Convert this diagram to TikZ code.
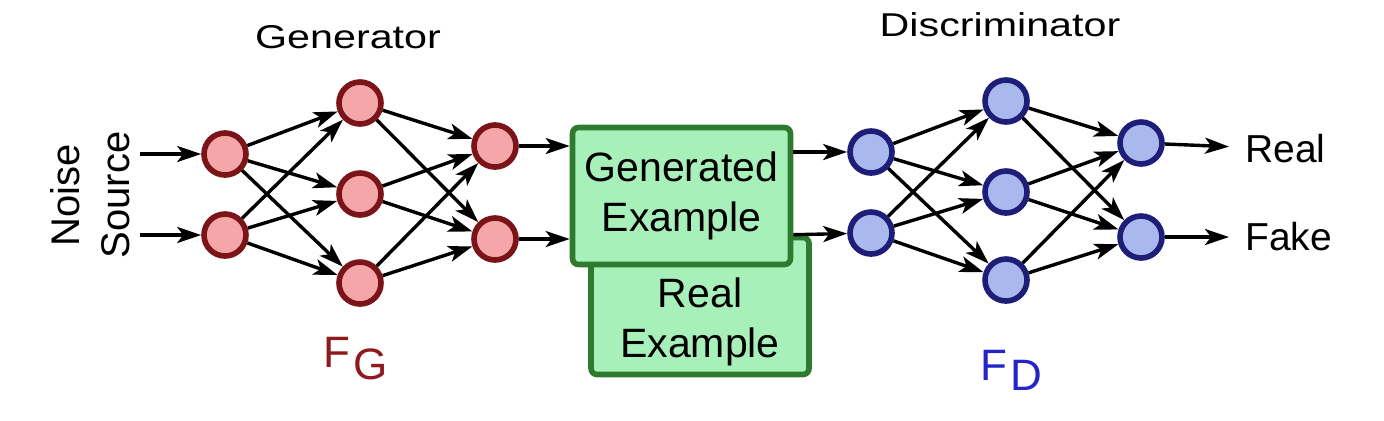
\documentclass[tikz,border=0pt]{standalone}
\usepackage{fontspec}
\setmainfont{Liberation Sans}
\usepackage{xcolor}
\usepackage{tikz}
\usetikzlibrary{arrows.meta}

\definecolor{genfill}{HTML}{F4A6A8}
\definecolor{gendraw}{HTML}{7B1419}
\definecolor{disfill}{HTML}{A9B9EE}
\definecolor{disdraw}{HTML}{1E1E78}
\definecolor{boxfill}{HTML}{A8F0BA}
\definecolor{boxdraw}{HTML}{2E7B30}
\definecolor{fgred}{HTML}{8E1A1E}
\definecolor{fdblue}{HTML}{2424C8}

\begin{document}
\begin{tikzpicture}[x=0.5pt, y=-0.5pt,
    >={Stealth[length=12pt, width=8pt, inset=3pt]},
    gen/.style={circle, draw=gendraw, fill=genfill, line width=2.8pt, minimum size=21pt, inner sep=0pt},
    dis/.style={circle, draw=disdraw, fill=disfill, line width=2.8pt, minimum size=21pt, inner sep=0pt},
    example/.style={rectangle, rounded corners=3pt, draw=boxdraw, fill=boxfill, line width=2.8pt,
        minimum width=109pt, minimum height=68.5pt, inner sep=0pt},
    boxtext/.style={align=center, inner sep=0pt, font=\fontsize{20.5}{25}\selectfont},
    title/.style={xscale=1.25, inner sep=0pt, font=\fontsize{16.5}{20}\selectfont},
    outlbl/.style={anchor=west, inner xsep=8pt, inner ysep=0pt, font=\fontsize{19.5}{24}\selectfont},
    flbl/.style={anchor=base west, inner sep=0pt, font=\fontsize{22}{22}\selectfont},
    link/.style={line width=1.7pt}]

    \useasboundingbox (0,0) rectangle (1384,420);

    % titles and inputs
    \node[title] (gtitle) at (348,37) {Generator};
    \node[title] (dtitle) at (1000,25) {Discriminator};
    \node[rotate=90, align=center, inner sep=0pt, font=\fontsize{20}{25}\selectfont] (noise) at (90,195) {Noise\\Source};
    \coordinate (in1) at (140,154);
    \coordinate (in2) at (140,235);

    % generator
    \node[gen] (g11) at (225,154) {};
    \node[gen] (g12) at (225,235) {};
    \node[gen] (g21) at (360,103) {};
    \node[gen] (g22) at (360,194) {};
    \node[gen] (g23) at (360,283) {};
    \node[gen] (g31) at (495,146) {};
    \node[gen] (g32) at (495,239) {};

    % examples
    \node[example] (real) at (700,306) {};
    \node[boxtext] (realtxt) at (700,322) {Real\\Example};
    \node[example, boxtext, inner sep=0pt] (gen) at (681.5,196) {Generated\\Example};

    % discriminator
    \node[dis] (d11) at (871,152) {};
    \node[dis] (d12) at (871,233) {};
    \node[dis] (d21) at (1006,101) {};
    \node[dis] (d22) at (1006,192) {};
    \node[dis] (d23) at (1006,280) {};
    \node[dis] (d31) at (1141,143) {};
    \node[dis] (d32) at (1141,237) {};

    \node[outlbl] (realout) at (1229,149) {Real};
    \node[outlbl] (fakeout) at (1229,237) {Fake};

    \node[flbl, text=fgred] (fg) at (323,367) {F\kern1.5pt\raisebox{-6pt}{G}};
    \node[flbl, text=fdblue] (fd) at (980,380) {F\kern1.5pt\raisebox{-5pt}{D}};

    \path[->, link]
    (in1) edge (g11)
    (in2) edge (g12)
    (g11) edge (g21)
    (g11) edge (g22)
    (g11) edge (g23)
    (g12) edge (g21)
    (g12) edge (g22)
    (g12) edge (g23)
    (g21) edge (g31)
    (g21) edge (g32)
    (g22) edge (g31)
    (g22) edge (g32)
    (g23) edge (g31)
    (g23) edge (g32)
    (g31) edge (g31 -| gen.west)
    (g32) edge (g32 -| gen.west);

    \path[->, link]
    (gen.east |- d11) edge (d11)
    (gen.east |- real.north) edge (d12)
    (d11) edge (d21)
    (d11) edge (d22)
    (d11) edge (d23)
    (d12) edge (d21)
    (d12) edge (d22)
    (d12) edge (d23)
    (d21) edge (d31)
    (d21) edge (d32)
    (d22) edge (d31)
    (d22) edge (d32)
    (d23) edge (d31)
    (d23) edge (d32)
    (d31) edge (realout)
    (d32) edge (fakeout);
\end{tikzpicture}
\end{document}
